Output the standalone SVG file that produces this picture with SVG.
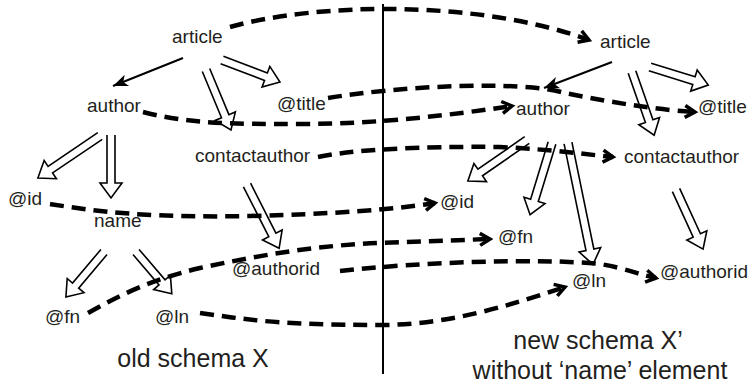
<svg xmlns="http://www.w3.org/2000/svg" width="751" height="388" viewBox="0 0 751 388">
<style>
text{font-family:"Liberation Sans",Arial,sans-serif;font-size:19px;fill:#231f20}
.big{font-size:25px}
.dash{fill:none;stroke:#000;stroke-width:4.5;stroke-dasharray:14 8;marker-end:url(#chev)}
.hol{fill:none;stroke:#000;stroke-width:1.6;stroke-linejoin:miter}
.sol{fill:none;stroke:#000;stroke-width:2;marker-end:url(#tri)}
</style>
<defs>
<marker id="chev" markerUnits="userSpaceOnUse" viewBox="-14 -9 18 18" markerWidth="18" markerHeight="18" refX="0" refY="0" orient="auto">
<path d="M-10,-6 L0,0 L-10,6" fill="none" stroke="#000" stroke-width="3.5" stroke-linejoin="miter"/>
</marker>
<marker id="tri" markerUnits="userSpaceOnUse" viewBox="-16 -8 18 16" markerWidth="18" markerHeight="16" refX="0" refY="0" orient="auto">
<path d="M0,0 L-15,-6 L-11,0 L-15,6 Z" fill="#000"/>
</marker>
</defs>
<line x1="383" y1="4" x2="383" y2="374" stroke="#000" stroke-width="2"/>
<g id="old-article"><text x="172" y="43">article</text></g>
<g id="old-author"><text x="87" y="112">author</text></g>
<g id="old-title"><text x="277" y="110">@title</text></g>
<g id="old-contactauthor"><text x="195" y="162">contactauthor</text></g>
<g id="old-id"><text x="8" y="205">@id</text></g>
<g id="old-name"><text x="94" y="227">name</text></g>
<g id="old-authorid"><text x="232" y="275">@authorid</text></g>
<g id="old-fn"><text x="45" y="323">@fn</text></g>
<g id="old-ln"><text x="155" y="323">@ln</text></g>
<g id="new-article"><text x="600" y="48">article</text></g>
<g id="new-author"><text x="516" y="115">author</text></g>
<g id="new-title"><text x="698" y="113">@title</text></g>
<g id="new-contactauthor"><text x="624" y="163">contactauthor</text></g>
<g id="new-id"><text x="440" y="208">@id</text></g>
<g id="new-fn"><text x="498" y="243">@fn</text></g>
<g id="new-ln"><text x="572" y="287">@ln</text></g>
<g id="new-authorid"><text x="660" y="278">@authorid</text></g>
<g id="labels">
<text class="big" x="193" y="367" text-anchor="middle">old schema X</text>
<text class="big" x="598" y="349" text-anchor="middle">new schema X’</text>
<text class="big" x="600" y="379" text-anchor="middle">without ‘name’ element</text>
</g>
<g id="connectors">
<line class="sol" x1="183" y1="58" x2="113" y2="86"/>
<line class="sol" x1="612" y1="62" x2="544" y2="88"/>
<g class="hol">
<path transform="translate(222,60) rotate(20.8)" d="M0,-4 H47 V-11 L62,0 L47,11 V4 H0"/>
<path transform="translate(206,70) rotate(67.4)" d="M0,-4 H50 V-11 L65,0 L50,11 V4 H0"/>
<path transform="translate(100,136) rotate(145.9)" d="M0,-4 H60 V-11 L75,0 L60,11 V4 H0"/>
<path transform="translate(111,135) rotate(90)" d="M0,-4 H48 V-11 L63,0 L48,11 V4 H0"/>
<path transform="translate(247,185) rotate(63.1)" d="M0,-4 H56 V-11 L71,0 L56,11 V4 H0"/>
<path transform="translate(104,252) rotate(130.2)" d="M0,-4 H44 V-11 L59,0 L44,11 V4 H0"/>
<path transform="translate(136,252) rotate(49.4)" d="M0,-4 H40 V-11 L55,0 L40,11 V4 H0"/>
<path transform="translate(650,67) rotate(17.2)" d="M0,-4 H46 V-11 L61,0 L46,11 V4 H0"/>
<path transform="translate(632,72) rotate(70.7)" d="M0,-4 H52 V-11 L67,0 L52,11 V4 H0"/>
<path transform="translate(527,140) rotate(145.2)" d="M0,-4 H57 V-11 L72,0 L57,11 V4 H0"/>
<path transform="translate(552,143) rotate(107)" d="M0,-4 H60 V-11 L75,0 L60,11 V4 H0"/>
<path transform="translate(568,143) rotate(78.4)" d="M0,-4 H109 V-11 L124,0 L109,11 V4 H0"/>
<path transform="translate(676,190) rotate(65.4)" d="M0,-4 H50 V-11 L65,0 L50,11 V4 H0"/>
</g>
<path class="dash" d="M230,27 C320,2 480,0 589,40"/>
<path class="dash" d="M328,98 C400,86 520,80 565,93 C620,104 660,110 695,112"/>
<path class="dash" d="M143,112 C190,124 230,124 300,124 C380,124 450,115 512,106"/>
<path class="dash" d="M318,157 C350,150 420,146 500,147 C560,150 590,155 613,157"/>
<path class="dash" d="M50,204 C100,212 150,218 250,216 C330,214 390,210 435,203"/>
<path class="dash" d="M88,313 C120,295 150,280 200,268 C260,255 320,245 380,243 L490,239"/>
<path class="dash" d="M340,271 C420,262 540,258 600,264 C625,268 640,275 656,278"/>
<path class="dash" d="M200,313 C250,320 280,325 380,325 C450,325 510,305 565,287"/>
</g>
</svg>
